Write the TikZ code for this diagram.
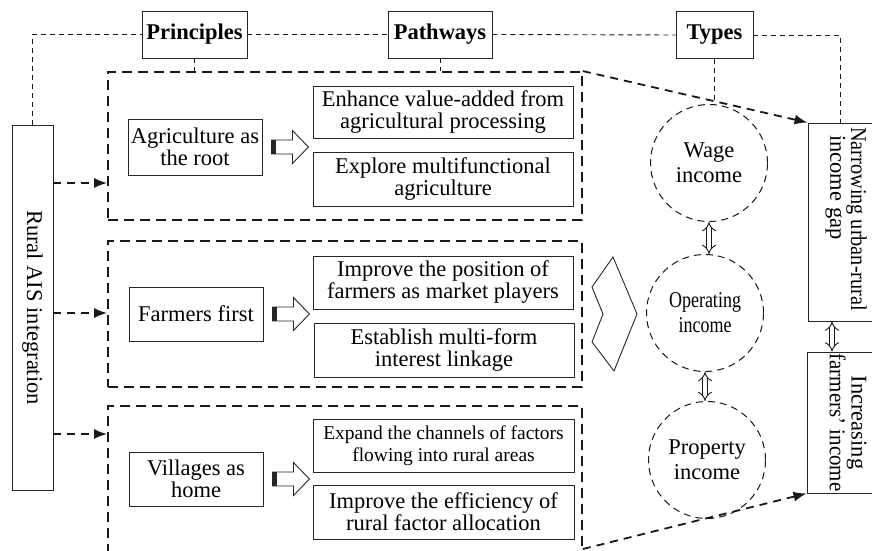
\documentclass[tikz,border=0pt]{standalone}
\usepackage{fontspec}
\usepackage{graphicx}
\setmainfont{Liberation Serif}
\usetikzlibrary{arrows.meta,calc}
\newcommand\hollowarrow[1]{%
  \begin{scope}[shift={(#1)}]
    \draw[line width=0.9pt,draw=black!85,fill=white] (9,-7) -- (30,-7) -- (30,-16.5) -- (46,0) -- (30,16.5) -- (30,7) -- (9,7) -- cycle;
    \fill[black!85] (9,-7) rectangle (13.5,7);
  \end{scope}}
\begin{document}
\begin{tikzpicture}[x=1pt,y=-1pt,
  every node/.style={inner sep=0pt,text=black,font=\fontsize{22.5}{22}\selectfont},
  sbox/.style={draw=black!85,line width=0.9pt,fill=white,align=center},
  head/.style={sbox,font=\fontsize{22.5}{22}\selectfont\bfseries},
  small/.style={sbox,font=\fontsize{19.5}{21.5}\selectfont},
  rot/.style={rotate=-90,font=\fontsize{22.5}{19.5}\selectfont},
  group/.style={draw=black!90,line width=1.8pt,dash pattern=on 10pt off 6pt},
  thindash/.style={draw=black!90,line width=0.9pt,dash pattern=on 5pt off 4pt},
  circ/.style={circle,draw=black!90,line width=1pt,dash pattern=on 7pt off 5pt,align=center,minimum size=117pt,font=\fontsize{22.5}{25}\selectfont},
  flow/.style={draw=black!90,line width=1.8pt,dash pattern=on 8pt off 6pt,-{Latex[length=13pt,width=10pt]}},
  dbl/.style={draw=black!90,double=white,double distance=4pt,line width=0.9pt,{Implies}-{Implies}}
]
\useasboundingbox (0,0) rectangle (872,551);
\clip (0,0) rectangle (872,551);

% header boxes
\node[head,minimum width=105pt,minimum height=47pt] (princ) at (194.5,34.5) {Principles};
\node[head,minimum width=104pt,minimum height=47pt] (path) at (440,34.5) {Pathways};
\node[head,minimum width=77pt,minimum height=47pt] (types) at (714.5,35) {Types};

% left and right end boxes
\node[sbox,minimum width=41pt,minimum height=365pt] (rural) at (32.5,307.5) {};
\node[rotate=-90] (ruraltext) at (rural.center) {Rural AIS integration};
\node[sbox,minimum width=65pt,minimum height=198pt] (narrow) at (840.5,222) {};
\node[rot,align=left,anchor=north west] (narrowtext) at (867,127) {\scalebox{0.9}[1]{Narrowing urban-rural}\\\hspace*{8pt}income gap};
\node[sbox,minimum width=66pt,minimum height=141pt] (incr) at (840,422.5) {};
\node[rot,align=center] (incrtext) at (848,422.5) {Increasing\\\scalebox{0.93}[1]{farmers’ income}};

% dashed groups
\node[group,minimum width=474pt,minimum height=148pt] (box1) at (345,146) {};
\node[group,minimum width=474pt,minimum height=146pt] (box2) at (345,314) {};
\node[group,minimum width=474pt,minimum height=194pt] (box3) at (345,503) {};

% principles
\node[sbox,minimum width=134pt,minimum height=56pt] (agri) at (195,147) {Agriculture as\\the root};
\node[sbox,minimum width=134pt,minimum height=54pt] (farm) at (196,314) {Farmers first};
\node[sbox,minimum width=134pt,minimum height=54pt] (vill) at (196,479) {Villages as\\home};

% pathways
\node[sbox,minimum width=260pt,minimum height=52pt] (enh) at (443,112) {Enhance value-added from\\agricultural processing};
\node[sbox,minimum width=260pt,minimum height=54pt] (expl) at (443,179) {Explore multifunctional\\agriculture};
\node[sbox,minimum width=260pt,minimum height=53pt] (impp) at (443,282.5) {Improve the position of\\farmers as market players};
\node[sbox,minimum width=260pt,minimum height=54pt] (est) at (444,350) {Establish multi-form\\interest linkage};
\node[small,minimum width=261pt,minimum height=53pt] (expd) at (443.5,445.5) {Expand the channels of factors\\flowing into rural areas};
\node[sbox,minimum width=261pt,minimum height=54pt] (impe) at (443.5,512) {Improve the efficiency of\\rural factor allocation};

% income circles
\node[circ] (wage) at (709,163) {Wage\\income};
\node[circ] (oper) at (705,313) {\scalebox{0.8}[1]{Operating}\\\scalebox{0.8}[1]{income}};
\node[circ] (prop) at (707,460) {Property\\income};

% top dashed frame
\draw[thindash] (rural.north) |- (princ.west);
\draw[thindash] (princ.east) -- (path.west);
\draw[thindash] (path.east) -- (types.west);
\draw[thindash] (types.east) -| (narrow.north);
\draw[thindash] (princ.south) -- (princ.south |- box1.north);
\draw[thindash] (path.south) -- (path.south |- box1.north);
\draw[thindash] (types.south) -- (types.south |- wage.north);

% flows from rural box
\coordinate (r1) at (0,183);
\coordinate (r2) at (0,313);
\coordinate (r3) at (0,434);
\coordinate (b3) at (0,549);
\draw[flow] (rural.east |- r1) -- (box1.west |- r1);
\draw[flow] (rural.east |- r2) -- (box2.west |- r2);
\draw[flow] (rural.east |- r3) -- (box3.west |- r3);
\draw[flow] (box1.north east) -- (narrow.north west);
\draw[flow] (box3.east |- b3) -- (incr.south west);

% hollow arrows
\hollowarrow{agri.east}
\hollowarrow{farm.east}
\hollowarrow{vill.east}

% big chevron
\draw[line width=0.9pt,draw=black!85,fill=white] (613,257) -- (637,314) -- (614,371) -- (592,342) -- (603,314) -- (592,287) -- cycle;

% double arrows
\draw[dbl] (wage.south) -- (wage.south |- oper.north);
\draw[dbl] (oper.south) -- (oper.south |- prop.north);
\coordinate (dx) at (832,0);
\draw[dbl] (narrow.south -| dx) -- (incr.north -| dx);
\end{tikzpicture}
\end{document}
